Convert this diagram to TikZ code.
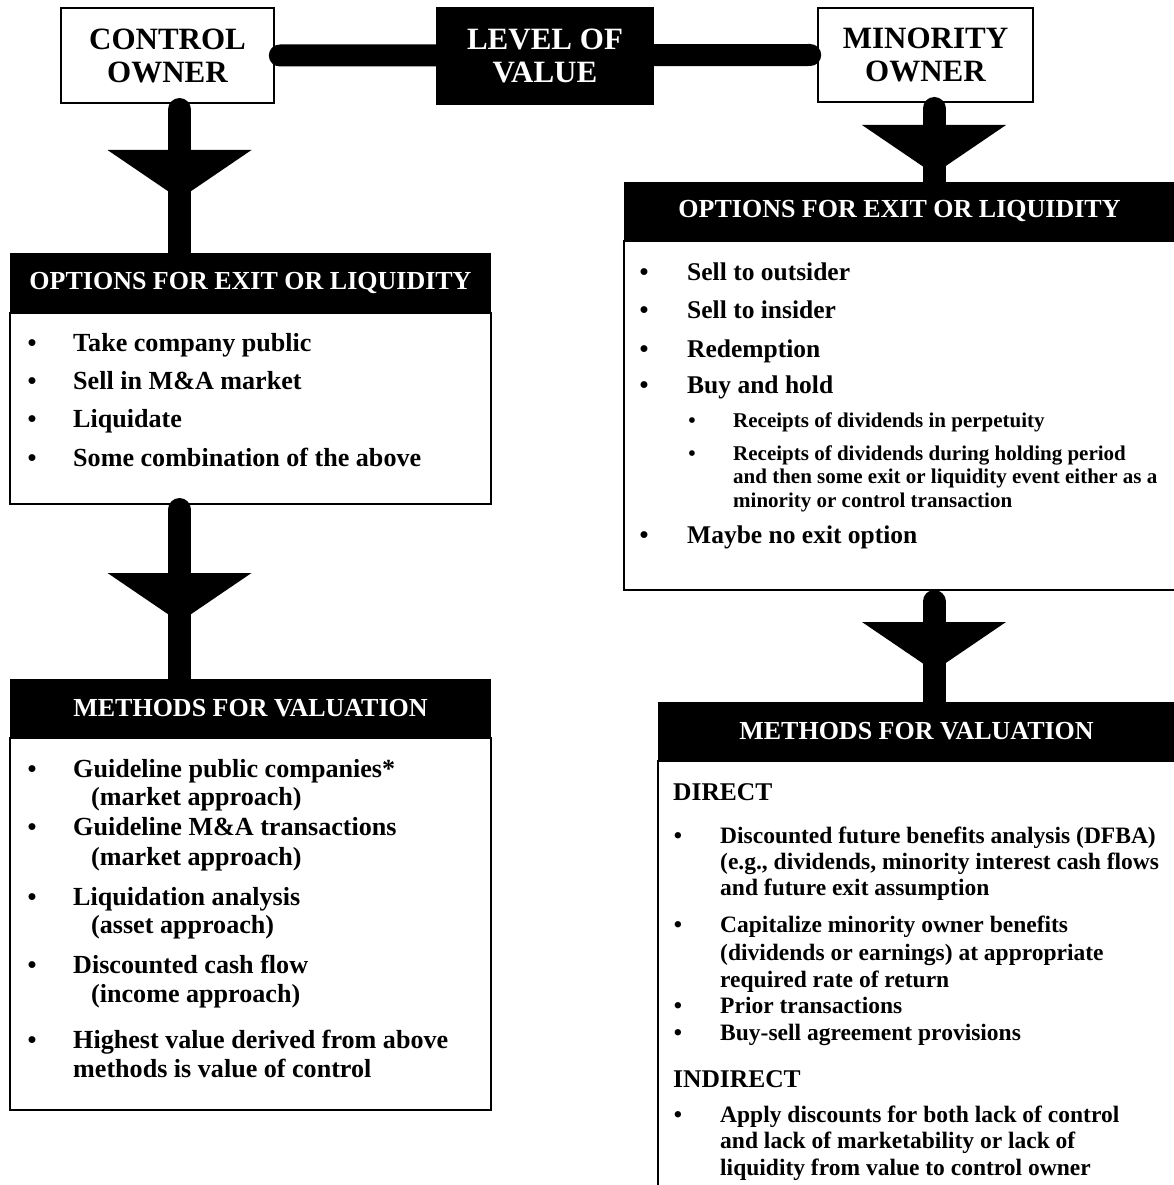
\documentclass[tikz,border=0pt]{standalone}
\usepackage{fontspec}
\setmainfont{Liberation Serif}
\usetikzlibrary{calc}
\newcommand{\ownerfont}{\fontsize{31}{33}\selectfont\bfseries}
\newcommand{\headfont}{\fontsize{26}{30}\selectfont\bfseries}
\newcommand{\itemfont}{\fontsize{25.5}{30}\selectfont\bfseries}
\newcommand{\leftitemfont}{\fontsize{26.1}{30}\selectfont\bfseries}
\newcommand{\methfont}{\fontsize{23.5}{28}\selectfont\bfseries}
\newcommand{\subitemfont}{\fontsize{21}{24}\selectfont\bfseries}
\def\funnel(#1,#2){\fill ({#1-72},#2) -- ({#1+72},#2) -- (#1,{#2+49}) -- cycle;}
\tikzset{
	ownerbox/.style={draw, line width=1.6pt, fill=white, align=center, font=\ownerfont, inner sep=0pt},
	headbox/.style={fill=black, text=white, font=\headfont, inner sep=0pt},
	bodybox/.style={draw, line width=1.8pt, fill=white, anchor=north, inner sep=0pt},
	stem/.style={line width=23pt, line cap=round},
	bar/.style={line width=22pt, line cap=round},
	bul/.style={anchor=base, inner sep=0pt, font=\itemfont},
	itm/.style={anchor=base west, inner sep=0pt, font=\itemfont},
	litm/.style={itm, font=\leftitemfont},
}

\begin{document}
\begin{tikzpicture}[x=1pt, y=-1pt]
		%%%%% START %%%%%
		
		\fill[white] (0, 0) rectangle (1173, 1185);
		\useasboundingbox (0, 0) rectangle (1173, 1185);
		
		% boxes
		\node[headbox, minimum width=481pt, minimum height=59pt] (lopth) at (250.5, 282.5) {OPTIONS FOR EXIT OR LIQUIDITY};
		\node[bodybox, minimum width=481pt, minimum height=191pt] (loptb) at (lopth.south) {};
		\node[headbox, minimum width=481pt, minimum height=58pt] (lmeth) at (250.5, 708) {METHODS FOR VALUATION};
		\node[bodybox, minimum width=481pt, minimum height=372pt] (lmetb) at (lmeth.south) {};
		\node[headbox, minimum width=551pt, minimum height=58pt] (ropth) at (899.5, 211) {OPTIONS FOR EXIT OR LIQUIDITY};
		\node[bodybox, minimum width=551pt, minimum height=349pt] (roptb) at (ropth.south) {};
		\node[headbox, minimum width=517pt, minimum height=58pt] (rmeth) at (916.5, 731) {METHODS FOR VALUATION};
		\node[bodybox, minimum width=517pt, minimum height=460pt] (rmetb) at (rmeth.south) {};
		
		\node[ownerbox, minimum width=213pt, minimum height=95pt] (ctrl) at (167.5, 55.5) {CONTROL\\OWNER};
		\node[ownerbox, minimum width=215pt, minimum height=94pt] (mino) at (925.5, 55) {MINORITY\\OWNER};
		\draw[bar] ([xshift=5pt]ctrl.east) -- ([xshift=-7pt]mino.west);
		\node[ownerbox, fill=black, text=white, minimum width=216pt, minimum height=96pt] (level) at (545, 56) {LEVEL OF\\VALUE};
		
		% stems and funnels
		\coordinate (st1) at (179.5, 109.5);
		\draw[stem] (st1) -- (st1 |- lopth.north);
		\funnel(179.5, 150)
		\coordinate (st2) at (179.5, 509.5);
		\draw[stem] (st2) -- (st2 |- lmeth.north);
		\funnel(179.5, 573)
		\coordinate (st3) at (934, 108.5);
		\draw[stem] (st3) -- (st3 |- ropth.north);
		\funnel(934, 125)
		\coordinate (st4) at (934, 601.5);
		\draw[stem] (st4) -- (st4 |- rmeth.north);
		\funnel(934, 622)
		
		% left options
		\foreach \yy [count=\i] in {351, 389, 427, 466}
			\node[bul] (lob\i) at (32, \yy) {\textbullet};
		\node[litm] (lot1) at (73, 351) {Take company public};
		\node[litm] (lot2) at (73, 389) {Sell in M\&A market};
		\node[litm] (lot3) at (73, 427) {Liquidate};
		\node[litm] (lot4) at (73, 466) {Some combination of the above};
		
		% left methods
		\foreach \yy [count=\i] in {777, 835, 905, 973, 1048}
			\node[bul] (lmb\i) at (32, \yy) {\textbullet};
		\node[litm] (lmt1) at (73, 777) {Guideline public companies*};
		\node[litm] (lmt2) at (91, 805) {(market approach)};
		\node[litm] (lmt3) at (73, 835) {Guideline M\&A transactions};
		\node[litm] (lmt4) at (91, 865) {(market approach)};
		\node[litm] (lmt5) at (73, 905) {Liquidation analysis};
		\node[litm] (lmt6) at (91, 933) {(asset approach)};
		\node[litm] (lmt7) at (73, 973) {Discounted cash flow};
		\node[litm] (lmt8) at (91, 1002) {(income approach)};
		\node[litm] (lmt9) at (73, 1048) {Highest value derived from above};
		\node[litm] (lmt10) at (73, 1077) {methods is value of control};
		
		% right options
		\foreach \yy [count=\i] in {280, 318, 357, 393, 543}
			\node[bul] (rob\i) at (644, \yy) {\textbullet};
		\node[itm] (rot1) at (687, 280) {Sell to outsider};
		\node[itm] (rot2) at (687, 318) {Sell to insider};
		\node[itm] (rot3) at (687, 357) {Redemption};
		\node[itm] (rot4) at (687, 393) {Buy and hold};
		\node[bul, font=\subitemfont] (rosb1) at (692, 427) {\textbullet};
		\node[itm, font=\subitemfont] (rost1) at (733, 427) {Receipts of dividends in perpetuity};
		\node[bul, font=\subitemfont] (rosb2) at (692, 460) {\textbullet};
		\node[itm, font=\subitemfont] (rost2) at (733, 460) {Receipts of dividends during holding period};
		\node[itm, font=\subitemfont] (rost3) at (733, 483) {and then some exit or liquidity event either as a};
		\node[itm, font=\subitemfont] (rost4) at (733, 507) {minority or control transaction};
		\node[itm] (rot5) at (687, 543) {Maybe no exit option};
		
		% right methods
		\node[itm] (direct) at (673, 800) {DIRECT};
		\foreach \yy [count=\i] in {843, 932, 1013, 1040, 1122}
			\node[bul, font=\methfont] (rmb\i) at (678, \yy) {\textbullet};
		\node[itm, font=\methfont] (rmt1) at (720, 843) {Discounted future benefits analysis (DFBA)};
		\node[itm, font=\methfont] (rmt2) at (720, 869) {(e.g., dividends, minority interest cash flows};
		\node[itm, font=\methfont] (rmt3) at (720, 895) {and future exit assumption};
		\node[itm, font=\methfont] (rmt4) at (720, 932) {Capitalize minority owner benefits};
		\node[itm, font=\methfont] (rmt5) at (720, 960) {(dividends or earnings) at appropriate};
		\node[itm, font=\methfont] (rmt6) at (720, 987) {required rate of return};
		\node[itm, font=\methfont] (rmt7) at (720, 1013) {Prior transactions};
		\node[itm, font=\methfont] (rmt8) at (720, 1040) {Buy-sell agreement provisions};
		\node[itm] (indirect) at (673, 1087) {INDIRECT};
		\node[itm, font=\methfont] (rmt9) at (720, 1122) {Apply discounts for both lack of control};
		\node[itm, font=\methfont] (rmt10) at (720, 1148) {and lack of marketability or lack of};
		\node[itm, font=\methfont] (rmt11) at (720, 1175) {liquidity from value to control owner};
		
		%%%%% END %%%%%
\end{tikzpicture}
\end{document}
